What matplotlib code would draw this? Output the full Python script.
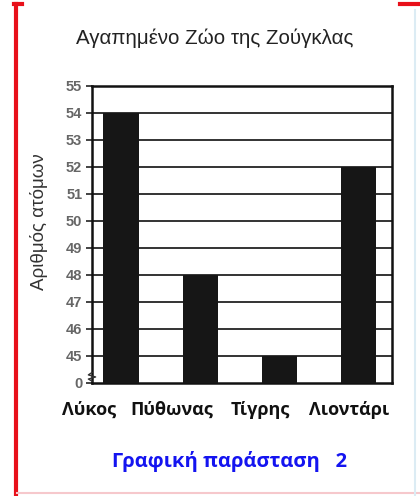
import numpy as np
import matplotlib
matplotlib.use('Agg')
from matplotlib import pyplot as plt
from matplotlib.lines import Line2D

# data
animals = ['Λύκος', 'Πύθωνας', 'Τίγρης', 'Λιοντάρι']
counts = [54, 48, 45, 52]
tick_values = [44, 45, 46, 47, 48, 49, 50, 51, 52, 53, 54, 55]
tick_labels = ['0', '45', '46', '47', '48', '49', '50', '51', '52', '53', '54', '55']
base = 44   # broken axis: bottom is drawn as "0"

title = 'Αγαπημένο Ζώο της Ζούγκλας'
ylabel = 'Αριθμός ατόμων'
caption = 'Γραφική παράσταση   2'

fig = plt.figure(figsize=(4.2, 4.96), dpi=100)
fig.patch.set_facecolor('white')
ax = fig.add_axes([0.219, 0.228, 0.714, 0.599])

x = np.arange(len(animals))
heights = [c - base for c in counts]
ax.bar(x, heights, bottom=base, width=0.45, color='#161616', zorder=3)

ax.set_ylim(base, 55)
ax.set_xlim(-0.37, 3.42)
ax.set_yticks(tick_values)
ax.set_yticklabels(tick_labels, fontsize=10.5, color='#666666', fontweight='bold',
                   family='Liberation Sans')
ax.tick_params(axis='y', length=4, width=1.2, color='#222222', pad=3)
ax.set_xticks([])
for yv in tick_values[1:]:
    ax.axhline(yv, color='#111111', lw=1.2, zorder=1)
for s in ax.spines.values():
    s.set_linewidth(1.8)
    s.set_color('#111111')

# category labels, hand placed under the bars
shifts = [-32, -29, -19, -10]
for i, name in enumerate(animals):
    ax.annotate(name, (x[i], base), xytext=(shifts[i], -27), textcoords='offset pixels',
                ha='center', va='center', fontsize=13, fontweight='bold',
                family='Open Sans', color='#111111', annotation_clip=False)

# axis break squiggle
ax.plot([0, -0.012, 0.012, -0.012, 0], [0.035, 0.027, 0.02, 0.013, 0.006],
        transform=ax.transAxes, color='#333333', lw=1, clip_on=False, zorder=5)

fig.text(0.51, 0.922, title, ha='center', va='center', fontsize=14.8,
         family='Liberation Sans', color='#222222')
fig.text(0.092, 0.553, ylabel, rotation=90, ha='center', va='center', fontsize=13.5,
         family='Liberation Sans', color='#333333')
fig.text(0.546, 0.069, caption, ha='center', va='center', fontsize=14.5,
         fontweight='bold', family='Open Sans', color='#1414f0')

# red frame pieces
fig.add_artist(Line2D([0.038, 0.038], [0.0, 0.992], color='#e8101a', lw=3))
fig.add_artist(Line2D([0.034, 0.053], [0.991, 0.991], color='#e8101a', lw=3))
fig.add_artist(Line2D([0.952, 1.0], [0.991, 0.991], color='#e8101a', lw=3))
fig.add_artist(Line2D([0.04, 1.0], [0.006, 0.006], color='#f6c8cc', lw=1.5))
fig.add_artist(Line2D([0.988, 0.988], [0.0, 0.98], color='#dcecf4', lw=1.5))

plt.savefig('out.png', dpi=100, facecolor='white')
